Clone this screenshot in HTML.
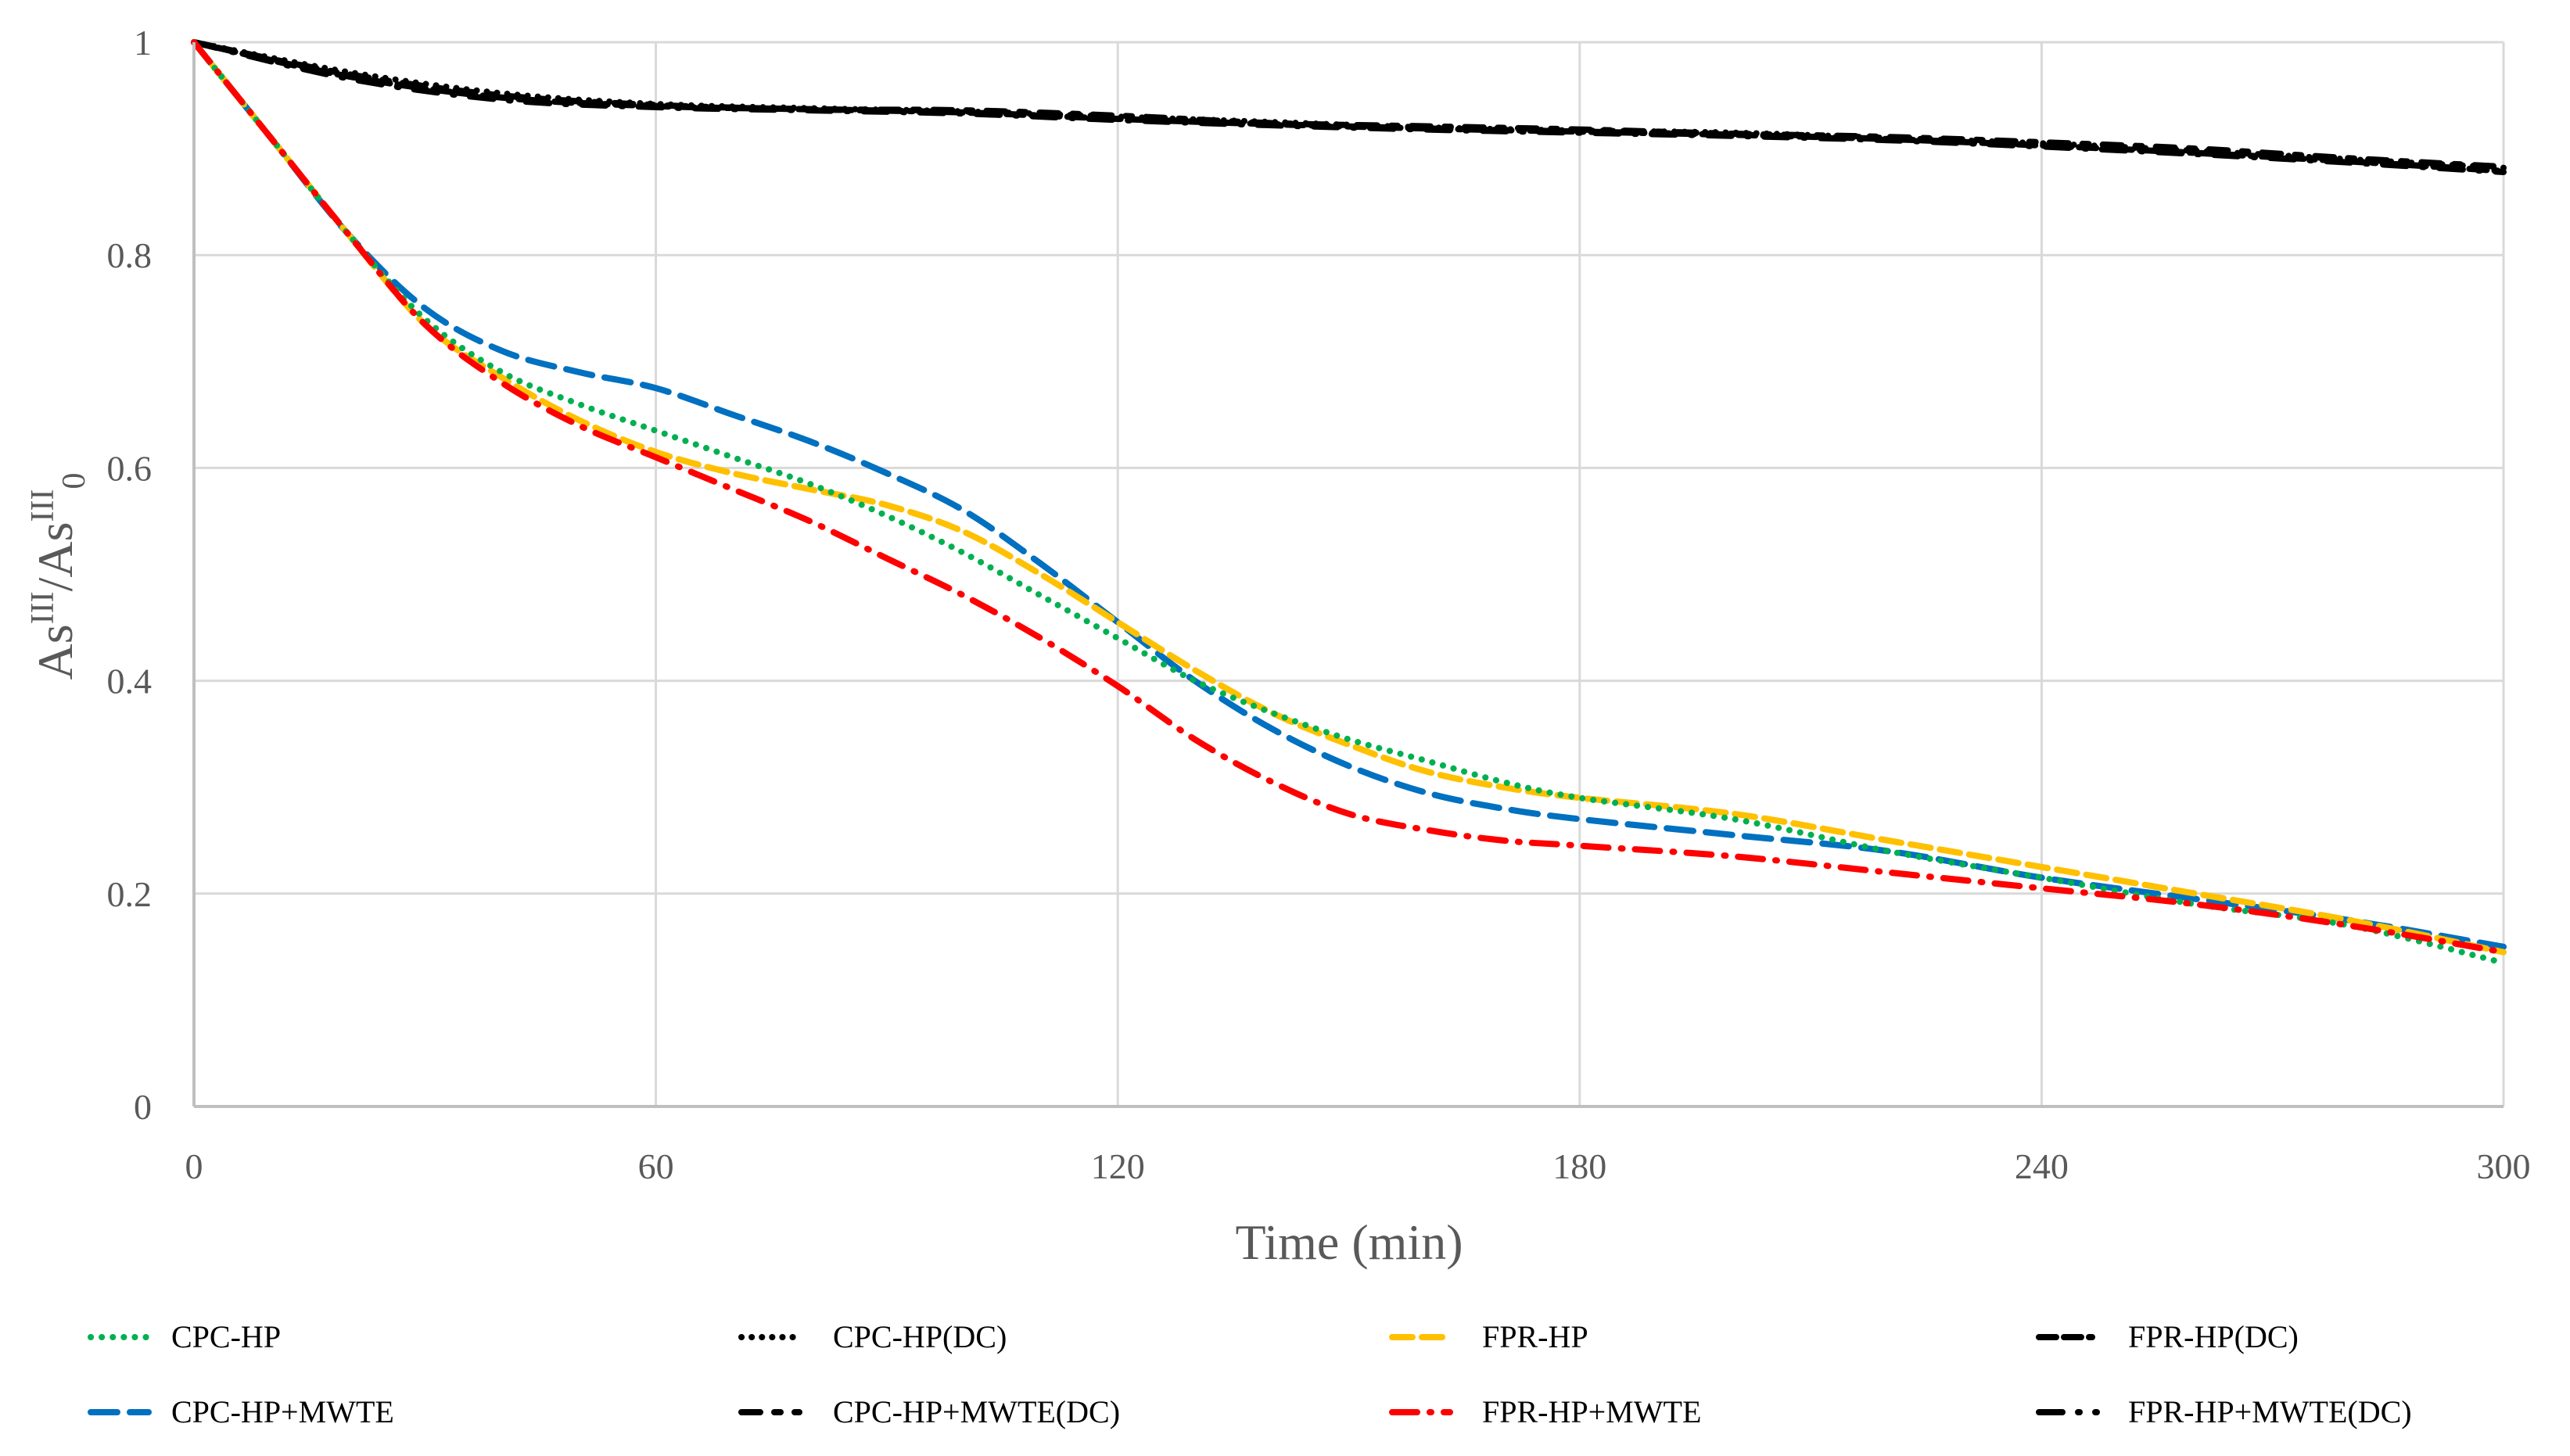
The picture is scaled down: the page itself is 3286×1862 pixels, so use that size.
<!DOCTYPE html>
<html><head><meta charset="utf-8"><style>
html,body{margin:0;padding:0;background:#fff;width:3286px;height:1862px;overflow:hidden}
text{font-family:"Liberation Serif",serif}
</style></head><body>
<svg id="chart" width="3286" height="1862" viewBox="0 0 3286 1862" xmlns="http://www.w3.org/2000/svg">
<g id="grid"></g>
<g id="series"></g>
<g id="axes"></g>
<text x="1725" y="1610" font-size="64" fill="#595959" text-anchor="middle">Time (min)</text>
<text transform="translate(92,737) rotate(-90)" font-size="64" fill="#595959" text-anchor="middle">As<tspan dy="-24" font-size="42">III</tspan><tspan dy="24">/As</tspan><tspan dy="-24" font-size="42">III</tspan><tspan dy="40" font-size="42">0</tspan></text>
<g id="legend"></g>
</svg>
<script>
const xTicks=[0,60,120,180,240,300];
const yTicks=[0,0.2,0.4,0.6,0.8,1];
const yTickLabels=["0","0.2","0.4","0.6","0.8","1"];
const seriesNames=["CPC-HP","CPC-HP(DC)","FPR-HP","FPR-HP(DC)","CPC-HP+MWTE","CPC-HP+MWTE(DC)","FPR-HP+MWTE","FPR-HP+MWTE(DC)"];
const tMain=[0,10,20,30,40,50,60,70,80,90,100,110,120,130,140,150,160,170,180,200,220,240,260,280,300];
const cpcHP=[1,0.91,0.82,0.74,0.69,0.66,0.635,0.61,0.585,0.555,0.52,0.48,0.44,0.40,0.37,0.345,0.325,0.305,0.29,0.27,0.24,0.215,0.19,0.17,0.135];
const cpcMW=[1,0.91,0.82,0.75,0.71,0.69,0.675,0.65,0.625,0.595,0.56,0.51,0.455,0.40,0.355,0.32,0.295,0.28,0.27,0.255,0.24,0.215,0.195,0.175,0.15];
const fprHP=[1,0.91,0.82,0.735,0.685,0.645,0.615,0.595,0.58,0.565,0.54,0.50,0.455,0.41,0.37,0.34,0.315,0.30,0.29,0.275,0.25,0.225,0.20,0.175,0.145];
const fprMW=[1,0.91,0.82,0.735,0.68,0.64,0.61,0.58,0.55,0.515,0.48,0.44,0.395,0.345,0.305,0.275,0.26,0.25,0.245,0.235,0.22,0.205,0.19,0.17,0.145];
const tDC=[0,20,40,60,80,100,120,140,160,180,200,220,240,260,280,300];
const cpcDC=[1,0.972,0.952,0.942,0.938,0.935,0.93,0.925,0.92,0.917,0.915,0.91,0.905,0.898,0.89,0.882];
const fprDC=[1,0.968,0.948,0.94,0.937,0.934,0.928,0.923,0.919,0.916,0.913,0.909,0.903,0.896,0.888,0.879];
const cpcMWDC=[1,0.97,0.95,0.941,0.937,0.936,0.931,0.924,0.921,0.918,0.914,0.911,0.906,0.9,0.891,0.883];
const fprMWDC=[1,0.966,0.946,0.939,0.936,0.933,0.927,0.922,0.918,0.915,0.912,0.908,0.902,0.895,0.887,0.878];

const L=248,R=3201,T=54,B=1415;
const X=v=>L+v/300*(R-L);
const Y=v=>B-v*(B-T);
const NS="http://www.w3.org/2000/svg";
function mk(tag,attrs,parent){const e=document.createElementNS(NS,tag);for(const k in attrs)e.setAttribute(k,attrs[k]);parent.appendChild(e);return e;}
const grid=document.getElementById('grid'),axes=document.getElementById('axes'),ser=document.getElementById('series'),leg=document.getElementById('legend');
yTicks.forEach((v,i)=>{
 const g=mk('line',{x1:L,x2:R,y1:Y(v),y2:Y(v),stroke:'#d9d9d9','stroke-width':3},grid);
 
 
 const t=mk('text',{x:194,y:Y(v)+16,'font-size':46,fill:'#595959','text-anchor':'end'},axes);
 t.textContent=yTickLabels[i];
 
 
});
xTicks.forEach(v=>{
 const g=mk('line',{x1:X(v),x2:X(v),y1:T,y2:B,stroke:'#d9d9d9','stroke-width':3},grid);
 
 
 const t=mk('text',{x:X(v),y:1507,'font-size':46,fill:'#595959','text-anchor':'middle'},axes);
 t.textContent=String(v);
 
 
});
const ax=mk('line',{x1:L,x2:R,y1:B,y2:B,stroke:'#bfbfbf','stroke-width':4},axes);


const ay=mk('line',{x1:L,x2:L,y1:T,y2:B,stroke:'#bfbfbf','stroke-width':4},axes);


function smooth(xs,ys){
 const p=xs.map((x,i)=>[X(x),Y(ys[i])]);
 let d='M'+p[0][0]+','+p[0][1];
 for(let i=0;i<p.length-1;i++){
  const p0=p[i-1]||p[i],p1=p[i],p2=p[i+1],p3=p[i+2]||p2;
  const c1=[p1[0]+(p2[0]-p0[0])/6,p1[1]+(p2[1]-p0[1])/6],c2=[p2[0]-(p3[0]-p1[0])/6,p2[1]-(p3[1]-p1[1])/6];
  d+=' C'+c1+' '+c2+' '+p2;
 }
 return d;
}
const styles={
 "CPC-HP":{c:'#00b050',d:'0.1 14'},
 "CPC-HP(DC)":{c:'#000',d:'0.1 13'},
 "FPR-HP":{c:'#ffc000',d:'26 12'},
 "FPR-HP(DC)":{c:'#000',d:'22 10 22 10 4 10'},
 "CPC-HP+MWTE":{c:'#0070c0',d:'34 16'},
 "CPC-HP+MWTE(DC)":{c:'#000',d:'24 18 8 18'},
 "FPR-HP+MWTE":{c:'#ff0000',d:'32 16 2 16'},
 "FPR-HP+MWTE(DC)":{c:'#000',d:'30 20 2 20'}
};
const data=[["CPC-HP(DC)",tDC,cpcDC],["FPR-HP(DC)",tDC,fprDC],["CPC-HP+MWTE(DC)",tDC,cpcMWDC],["FPR-HP+MWTE(DC)",tDC,fprMWDC],
 ["CPC-HP+MWTE",tMain,cpcMW],["FPR-HP",tMain,fprHP],["CPC-HP",tMain,cpcHP],["FPR-HP+MWTE",tMain,fprMW]];
data.forEach(([n,xs,ys])=>{
 const s=styles[n];
 const p=mk('path',{d:smooth(xs,ys),fill:'none',stroke:s.c,'stroke-width':8,'stroke-linecap':'round','stroke-dasharray':s.d},ser);
 
 
});
const colSw=[116,948,1780,2607],colTx=[219,1065,1895,2721],rowY=[1710,1806];
seriesNames.forEach((n,i)=>{
 const col=i%4,row=Math.floor(i/4),s=styles[n];
 const g=mk('g',{},leg);
 
 
 mk('line',{x1:colSw[col],x2:colSw[col]+74,y1:rowY[row],y2:rowY[row],stroke:s.c,'stroke-width':8,'stroke-linecap':'round','stroke-dasharray':s.d},g);
 const t=mk('text',{x:colTx[col],y:rowY[row]+13,'font-size':40,fill:'#000'},g);
 t.textContent=n;
});
</script>
</body></html>
